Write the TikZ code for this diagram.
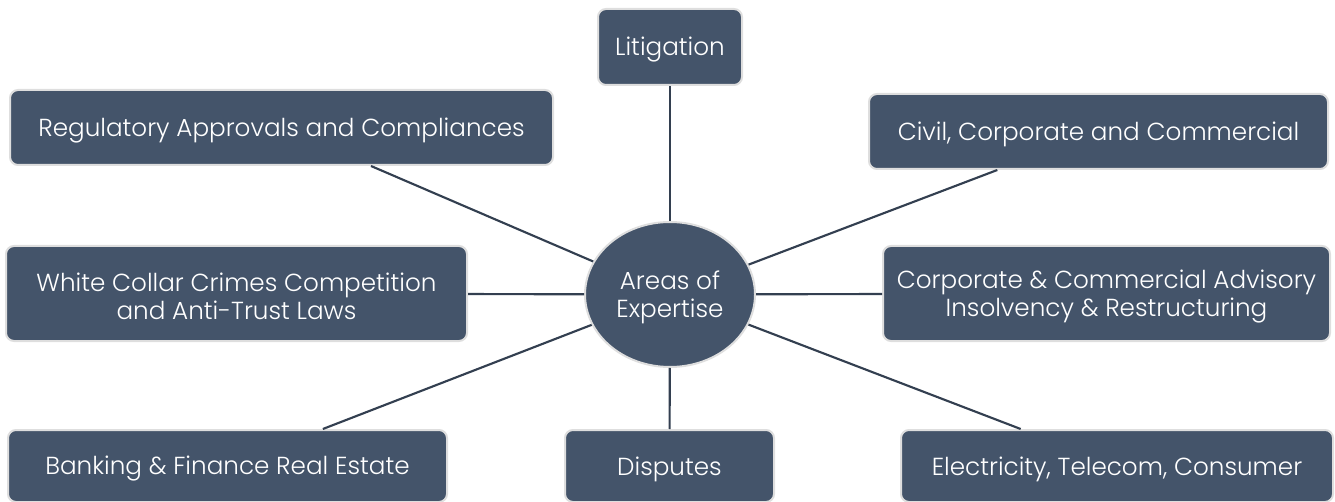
\documentclass[tikz,border=0pt]{standalone}
\usepackage{fontspec}
\setmainfont{Poppins}[UprightFont=* Light]
\usetikzlibrary{shapes.geometric}
\definecolor{boxfill}{HTML}{44546A}
\definecolor{boxedge}{HTML}{DEDEDE}
\definecolor{linecol}{HTML}{333F50}
\tikzset{
  area/.style={rectangle, rounded corners=6pt, fill=boxfill, draw=boxedge, line width=1.5pt,
    inner sep=0pt},
  hub/.style={ellipse, fill=boxfill, draw=boxedge, line width=1.5pt, inner sep=0pt,
    minimum width=127.5pt, minimum height=108.75pt},
  label text/.style={text=white, font=\fontsize{18.5}{21.5}\selectfont, align=center, inner sep=0pt},
  link/.style={draw=linecol, line width=1.6pt}
}
\newcommand\areabox[5]{%
  \node[area, minimum width=#3, minimum height=#4] (#1) at #2 {};
  \node[label text] (#1-text) at ([yshift=-2.25pt]#1.center) {#5};
}
\begin{document}
\begin{tikzpicture}[x=0.75pt,y=-0.75pt]
\useasboundingbox (0,0) rectangle (1335,502);
\node[hub] (c) at (670,294.5) {};
\node[label text] (c-text) at ([yshift=-2.25pt]c.center) {Areas of\\Expertise};
\areabox{lit}{(670,47)}{108pt}{57pt}{Litigation}
\areabox{reg}{(281.5,127.5)}{407.25pt}{56.25pt}{Regulatory Approvals and Compliances}
\areabox{civ}{(1098.5,131.5)}{344.25pt}{56.25pt}{Civil, Corporate and Commercial}
\areabox{wcc}{(236.5,293.5)}{345.75pt}{71.25pt}{White Collar Crimes Competition\\and Anti-Trust Laws}
\areabox{cca}{(1106.5,293.5)}{335.25pt}{71.25pt}{Corporate \& Commercial Advisory\\Insolvency \& Restructuring}
\areabox{bnk}{(227.5,466)}{329.25pt}{54pt}{Banking \& Finance Real Estate}
\areabox{dis}{(669.5,466)}{156.75pt}{54pt}{Disputes}
\areabox{ele}{(1117,466)}{324pt}{54pt}{Electricity, Telecom, Consumer}
\draw[link] (c) -- (lit);
\draw[link] (c) -- (reg);
\draw[link] (c) -- (civ);
\draw[link] (c) -- (wcc);
\draw[link] (c) -- (cca);
\draw[link] (c) -- (bnk);
\draw[link] (c) -- (dis);
\draw[link] (c) -- (ele);
\end{tikzpicture}
\end{document}
